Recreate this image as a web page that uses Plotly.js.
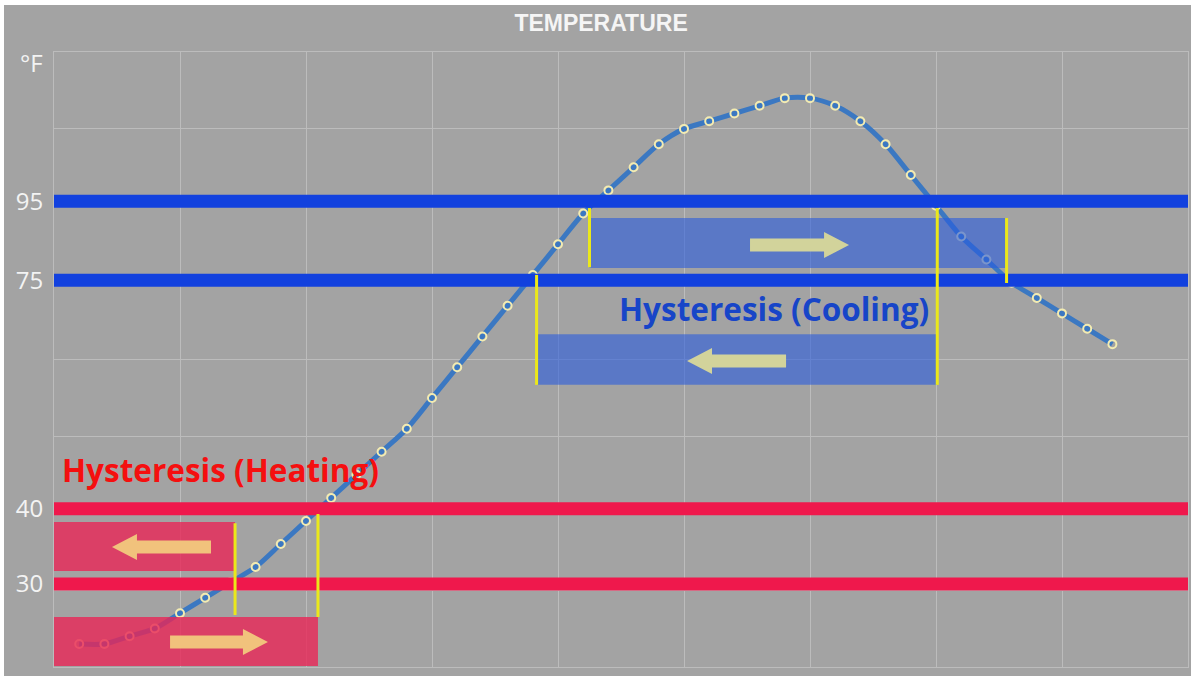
<!DOCTYPE html>
<html>
<head>
<meta charset="utf-8">
<script src="https://cdn.plot.ly/plotly-3.0.1.min.js"></script>
<style>
  html, body { margin: 0; padding: 0; background: #ffffff; width: 1191px; height: 676px; overflow: hidden; }
  #chart { position: absolute; left: 4px; top: 5px; width: 1187px; height: 671px; }
</style>
</head>
<body>
<div id="chart"></div>
<script>
// ---- data (chart units: x = time step, y = position on the schematic temperature scale) ----
const timeSteps = [0.2,0.4,0.6,0.8,1.0,1.2,1.4,1.6,1.8,2.0,2.2,2.4,2.6,2.8,3.0,3.2,3.4,3.6,3.8,4.0,
                   4.2,4.4,4.6,4.8,5.0,5.2,5.4,5.6,5.8,6.0,6.2,6.4,6.6,6.8,7.0,7.2,7.4,7.6,7.8,8.0,8.2,8.4];
const temperature = [3,3,4,5,7,9,11,13,16,19,22,25,28,31,35,39,43,47,51,55,
                     59,62,65,68,70,71,72,73,74,74,73,71,68,64,60,56,53,50,48,46,44,42];
const tickLabels = ['95','75','40','30'];
const tickLevels = [60.6, 50.3, 20.6, 10.8];   // where each labelled threshold sits on the scale
const coolingLevels = [60.6, 50.3];
const heatingLevels = [20.6, 10.8];
// curve crossings of the thresholds (x)
const heatingCross = [1.437, 2.095];
const coolingCross = [3.83, 4.25, 7.01, 7.56];

// ---- styles ----
const BG = '#a3a3a3';
const GRID = '#bcbcbc';
const BLUE_LINE = '#1241de';
const RED_LINE = '#ef184c';
const HEAT_RECT = 'rgba(232,38,86,0.80)';
const COOL_RECT = 'rgba(42,92,222,0.60)';
const YELLOW = '#ebe81a';
const HEAT_ARROW = '#f1c27c';
const COOL_ARROW = '#d2d39b';

const XMAX = 9, YMAX = 80;
const plotW = 1134, plotH = 615;
const pxX = XMAX / plotW, pxY = YMAX / plotH;

function arrowPath(xTail, xTip, yc) {
  const dir = Math.sign(xTip - xTail);
  const hl = 25 * pxX, sh = 6.5 * pxY, hh = 13 * pxY;
  const xb = xTip - dir * hl;
  return `M ${xTail},${yc + sh} L ${xb},${yc + sh} L ${xb},${yc + hh} L ${xTip},${yc} ` +
         `L ${xb},${yc - hh} L ${xb},${yc - sh} L ${xTail},${yc - sh} Z`;
}

const shapes = [];
// hysteresis bands (above curve, semi transparent)
shapes.push({type:'rect', layer:'above', xref:'x', yref:'y', x0:0, x1:heatingCross[0], y0:12.49, y1:18.86, fillcolor:HEAT_RECT, line:{width:0}});
shapes.push({type:'rect', layer:'above', xref:'x', yref:'y', x0:0, x1:heatingCross[1], y0:0.13, y1:6.5, fillcolor:HEAT_RECT, line:{width:0}});
shapes.push({type:'rect', layer:'above', xref:'x', yref:'y', x0:coolingCross[1], x1:coolingCross[3], y0:51.9, y1:58.4, fillcolor:COOL_RECT, line:{width:0}});
shapes.push({type:'rect', layer:'above', xref:'x', yref:'y', x0:coolingCross[0], x1:coolingCross[2], y0:36.7, y1:43.3, fillcolor:COOL_RECT, line:{width:0}});
// threshold lines
coolingLevels.forEach(v => shapes.push({type:'line', layer:'above', xref:'x', yref:'y', x0:0, x1:XMAX, y0:v, y1:v, line:{color:BLUE_LINE, width:13}}));
heatingLevels.forEach(v => shapes.push({type:'line', layer:'above', xref:'x', yref:'y', x0:0, x1:XMAX, y0:v, y1:v, line:{color:RED_LINE, width:13}}));
// yellow markers at crossings
const yl = (x, y0, y1) => shapes.push({type:'line', layer:'above', xref:'x', yref:'y', x0:x, x1:x, y0:y0, y1:y1, line:{color:YELLOW, width:3}});
yl(heatingCross[0], 6.76, 18.7);
yl(heatingCross[1], 6.5, 19.9);
yl(coolingCross[0], 36.7, 51.0);
yl(coolingCross[1], 52.0, 59.7);
yl(coolingCross[2], 36.7, 59.7);
yl(coolingCross[3], 49.95, 58.4);
// arrows
shapes.push({type:'path', layer:'above', xref:'x', yref:'y', path:arrowPath(1.246, 0.46, 15.61), fillcolor:HEAT_ARROW, line:{width:0}});
shapes.push({type:'path', layer:'above', xref:'x', yref:'y', path:arrowPath(0.921, 1.698, 3.25), fillcolor:HEAT_ARROW, line:{width:0}});
shapes.push({type:'path', layer:'above', xref:'x', yref:'y', path:arrowPath(5.524, 6.31, 54.89), fillcolor:COOL_ARROW, line:{width:0}});
shapes.push({type:'path', layer:'above', xref:'x', yref:'y', path:arrowPath(5.81, 5.024, 39.8), fillcolor:COOL_ARROW, line:{width:0}});

const traces = [{
  x: timeSteps, y: temperature, type:'scatter', mode:'lines+markers',
  line:{color:'#3b78c2', width:5, shape:'spline', smoothing:0.8},
  marker:{symbol:'circle-open', size:8, color:'#f3ecb2', line:{width:2, color:'#f3ecb2'}},
  hoverinfo:'skip', showlegend:false
}];

const layout = {
  width:1187, height:671,
  margin:{l:50, r:3, t:47, b:9},
  paper_bgcolor:BG, plot_bgcolor:BG,
  title:{text:'<b>TEMPERATURE</b>', xref:'container', yref:'container', x:0.503, y:1-18/671, xanchor:'center', yanchor:'middle',
         font:{family:'Liberation Sans, Arial, sans-serif', size:23, color:'#f5f5f5'}},
  xaxis:{range:[0, XMAX], dtick:1, tick0:0, showgrid:true, gridcolor:GRID, gridwidth:1, zeroline:false,
         showticklabels:false, ticks:'', showline:true, mirror:true, linecolor:GRID, linewidth:1, fixedrange:true},
  yaxis:{range:[0, YMAX], tickmode:'array', tickvals:tickLevels, ticktext:tickLabels, showgrid:false, zeroline:false,
         ticks:'', ticklabelstandoff:5, tickfont:{family:'Open Sans, sans-serif', size:24, color:'#f3f3f3'},
         minor:{tickmode:'linear', tick0:0, dtick:10, showgrid:true, gridcolor:GRID, gridwidth:1, ticks:''},
         showline:true, mirror:true, linecolor:GRID, linewidth:1, fixedrange:true},
  shapes: shapes,
  annotations:[
    {text:'°F', xref:'paper', yref:'y', x:0, y:78.6, xanchor:'right', yanchor:'middle', xshift:-9, showarrow:false,
     font:{family:'Open Sans, sans-serif', size:24, color:'#f3f3f3'}},
    {text:'<b>Hysteresis (Heating)</b>', xref:'x', yref:'y', x:0.05, y:25.7, xanchor:'left', yanchor:'middle', showarrow:false,
     font:{family:'Open Sans, sans-serif', size:31.5, color:'#f50f0f'}},
    {text:'<b>Hysteresis (Cooling)</b>', xref:'x', yref:'y', x:5.714, y:46.57, xanchor:'center', yanchor:'middle', showarrow:false,
     font:{family:'Open Sans, sans-serif', size:31.5, color:'#1745c8'}}
  ]
};

Plotly.newPlot('chart', traces, layout, {displayModeBar:false, staticPlot:true});
</script>
</body>
</html>
